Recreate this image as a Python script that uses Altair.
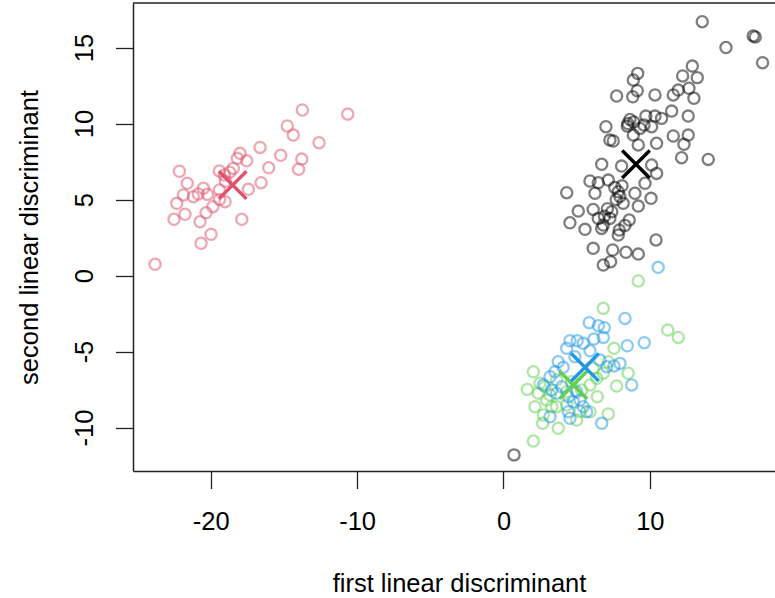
import altair as alt
import pandas as pd

# ---- data ----
pink_x = [-13.74, -10.64, -14.77, -14.36, -12.6, -16.63, -15.22, -18.0, -18.18, -17.54,
          -13.78, -14.0, -16.04, -18.46, -22.14, -19.07, -21.6, -16.56, -17.43, -19.41,
          -20.5, -20.23, -20.85, -21.19, -21.87, -22.32, -19.02, -19.86, -21.76, -20.32,
          -22.51, -20.73, -17.88, -19.98, -20.66, -23.8, -19.41, -18.7, -19.0, -19.4]
pink_y = [10.89, 10.62, 9.84, 9.24, 8.74, 8.43, 7.91, 8.04, 7.71, 7.55,
          7.66, 6.99, 7.09, 7.05, 6.86, 6.61, 6.07, 6.11, 5.67, 5.63,
          5.74, 5.34, 5.36, 5.19, 5.3, 4.75, 4.86, 4.53, 4.03, 4.13,
          3.7, 3.54, 3.7, 2.71, 2.12, 0.74, 6.88, 6.8, 6.2, 5.0]

gray_x = [13.58, 17.06, 17.2, 15.2, 17.7, 12.9, 12.24, 13.24, 9.17, 8.87,
          12.67, 11.94, 9.14, 8.83, 7.73, 10.35, 11.6, 13.01, 11.49, 12.62,
          9.73, 10.35, 10.8, 8.64, 7.0, 8.46, 9.32, 10.12, 8.87, 11.6,
          12.62, 7.27, 7.5, 9.21, 10.46, 12.33, 12.17, 13.99, 6.71, 8.07,
          10.12, 10.46, 5.91, 6.48, 7.16, 9.67, 4.32, 6.25, 7.84, 8.98,
          10.08, 5.11, 6.13, 8.18, 9.21, 4.54, 5.57, 6.48, 6.82, 7.27,
          8.59, 6.71, 7.91, 7.84, 10.42, 6.13, 7.46, 8.37, 9.21, 6.82,
          7.32, 0.72, 7.6, 7.95, 7.7, 8.1, 7.4, 8.5, 8.9, 9.6,
          6.9, 7.1, 8.3]
gray_y = [16.7, 15.76, 15.7, 15.0, 14.0, 13.78, 13.13, 13.02, 13.3, 12.86,
          12.32, 12.2, 12.16, 11.76, 11.81, 11.88, 11.88, 11.66, 10.82, 10.49,
          10.49, 10.49, 10.34, 10.27, 9.79, 9.83, 9.68, 9.79, 9.24, 9.18,
          9.24, 8.91, 8.85, 8.59, 8.7, 8.63, 7.75, 7.64, 7.32, 7.2,
          7.27, 6.72, 6.22, 6.11, 6.28, 6.07, 5.45, 5.41, 5.51, 5.41,
          5.08, 4.24, 4.35, 4.75, 4.57, 3.47, 3.04, 3.76, 3.32, 3.76,
          3.65, 3.1, 2.99, 2.66, 2.34, 1.79, 1.68, 1.53, 1.41, 0.69,
          0.91, -11.8, 5.8, 5.2, 5.0, 5.9, 4.2, 10.0, 10.1, 9.9,
          3.9, 4.4, 3.3]

green_x = [9.21, 6.82, 11.22, 11.94, 7.55, 8.52, 7.73, 7.16, 2.04, 1.63,
           2.38, 2.15, 2.72, 2.68, 3.74, 2.04, 5.0, 5.91, 6.41, 5.91,
           6.82, 2.95, 3.63, 3.18, 2.49, 4.32, 5.23, 6.37, 7.16, 3.63,
           4.32, 5.34, 2.83, 3.3, 4.66, 6.13]
green_y = [-0.36, -2.16, -3.59, -4.07, -4.79, -6.43, -7.27, -9.11, -6.33, -7.49,
           -7.75, -8.63, -9.18, -9.72, -10.05, -10.89, -9.51, -8.96, -7.97, -7.2,
           -6.43, -8.19, -8.63, -7.86, -7.09, -8.52, -8.96, -6.76, -5.67, -6.87,
           -7.64, -7.53, -7.32, -8.63, -6.99, -6.11]

blue_x = [10.57, 8.3, 5.86, 6.48, 6.89, 6.82, 6.18, 9.62, 8.46, 4.54,
          5.04, 5.45, 4.32, 5.91, 7.96, 7.55, 3.74, 4.08, 8.76, 3.18,
          2.72, 3.29, 3.63, 4.43, 4.77, 5.45, 4.43, 5.68, 3.18, 4.54,
          6.71, 7.05, 6.59, 3.52, 3.98, 5.0, 5.23, 4.88]
blue_y = [0.54, -2.82, -3.1, -3.3, -3.43, -4.07, -4.18, -4.42, -4.62, -4.29,
          -4.29, -4.46, -4.79, -4.95, -5.78, -5.95, -5.67, -6.04, -7.2, -6.66,
          -7.2, -7.53, -7.75, -7.97, -8.3, -8.63, -8.96, -8.96, -9.29, -9.39,
          -9.72, -6.0, -5.56, -6.33, -7.32, -7.64, -8.19, -5.34]

groups = ["pink", "gray", "green", "blue"]
cent_x = [-18.5, 9.05, 4.77, 5.57]
cent_y = [5.95, 7.32, -7.2, -6.04]
base_colors = ["#DF536B", "#000000", "#61D04F", "#2297E6"]

x_ticks = [-20, -10, 0, 10, 20]
y_ticks = [-10, -5, 0, 5, 10, 15]

rows = []
for g, xs, ys in [("pink", pink_x, pink_y), ("gray", gray_x, gray_y),
                  ("green", green_x, green_y), ("blue", blue_x, blue_y)]:
    for a, b in zip(xs, ys):
        rows.append({"x": a, "y": b, "g": g, "o": len(rows)})
pts = pd.DataFrame(rows)
cents = pd.DataFrame({"x": cent_x, "y": cent_y, "g": groups})

FONT = "Liberation Sans"
FS = 25.5
W, H = 642, 468
xscale = alt.Scale(domain=[-25.31, 18.55], nice=False, zero=False)
yscale = alt.Scale(domain=[-12.86, 17.93], nice=False, zero=False)
cscale = alt.Scale(domain=groups, range=base_colors)
hyphen = "datum.value < 0 ? '-' + abs(datum.value) : '' + datum.value"

xaxis = alt.Axis(values=x_ticks, grid=False, tickSize=17.5, tickColor="#222", tickWidth=1.3,
                 domainColor="#222", domainWidth=1.5, labelFont=FONT, labelFontSize=FS,
                 labelColor="black", labelBaseline="middle", labelPadding=33, labelExpr=hyphen,
                 title="first linear discriminant", titleFont=FONT, titleFontSize=FS,
                 titleFontWeight="normal", titleColor="black", titleX=326, titleY=112,
                 titleBaseline="middle", titleAnchor="middle")
yaxis = alt.Axis(values=y_ticks, grid=False, tickSize=17.5, tickColor="#222", tickWidth=1.3,
                 domainColor="#222", domainWidth=1.5, labelFont=FONT, labelFontSize=FS,
                 labelColor="black", labelAngle=-90, labelAlign="center",
                 labelBaseline="middle", labelPadding=31, labelExpr=hyphen,
                 title="second linear discriminant", titleFont=FONT, titleFontSize=FS,
                 titleFontWeight="normal", titleColor="black", titleX=-104, titleY=234,
                 titleBaseline="middle", titleAnchor="middle", titleAngle=-90)

points = alt.Chart(pts).mark_point(filled=False, size=125, strokeWidth=2.3, opacity=0.5).encode(
    x=alt.X("x:Q", scale=xscale, axis=xaxis),
    y=alt.Y("y:Q", scale=yscale, axis=yaxis),
    color=alt.Color("g:N", scale=cscale, legend=None),
    order="o:Q",
)

crosses = alt.Chart(cents).mark_point(
    shape="M-1,-1L1,1M-1,1L1,-1", filled=False, size=760, strokeWidth=3.5, opacity=1
).encode(
    x=alt.X("x:Q", scale=xscale),
    y=alt.Y("y:Q", scale=yscale),
    color=alt.Color("g:N", scale=cscale, legend=None),
)

topline = alt.Chart(pd.DataFrame({"a": [0]})).mark_rule(color="#222", strokeWidth=1.5).encode(
    x=alt.value(0), x2=alt.value(W), y=alt.value(0)
)

chart = alt.layer(points, crosses, topline).properties(
    width=W, height=H,
    padding={"left": 133, "top": 3, "right": 0, "bottom": 127},
    autosize=alt.AutoSizeParams(type="none"),
).configure_view(stroke=None)

chart.save("out.html", embed_options={"renderer": "svg", "actions": False})
